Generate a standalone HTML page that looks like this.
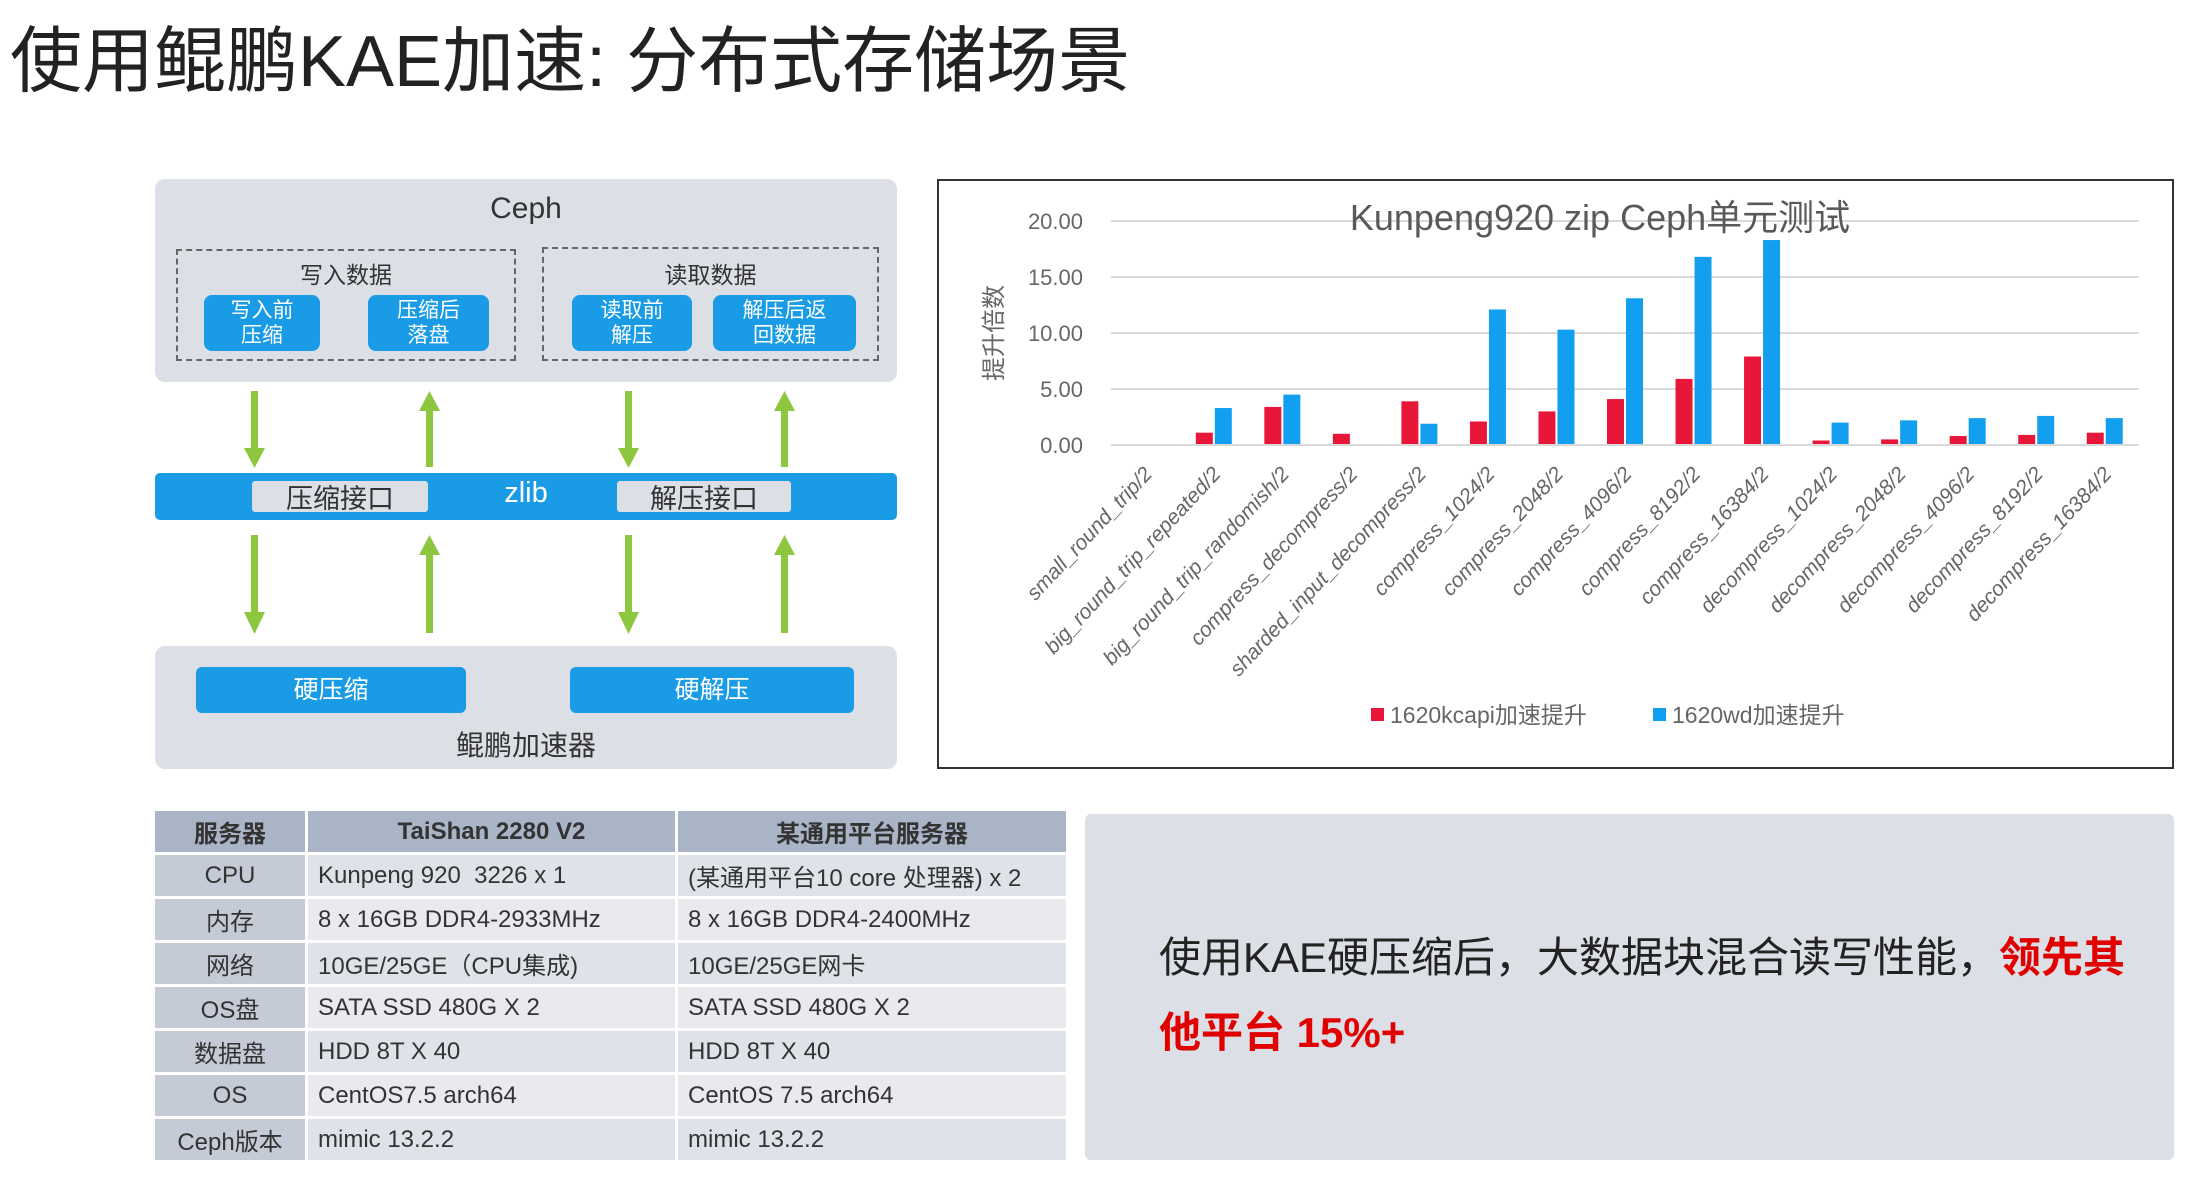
<!DOCTYPE html>
<html><head><meta charset="utf-8">
<style>
*{margin:0;padding:0;box-sizing:border-box}
body{width:2192px;height:1186px;background:#fff;position:relative;overflow:hidden;font-family:"Liberation Sans","Noto Sans CJK SC",sans-serif;color:#333}
.a{position:absolute}
.c{display:flex;align-items:center;justify-content:center;text-align:center}
.btn{position:absolute;background:#1a9be6;color:#fff;border-radius:8px;font-size:21px;line-height:25px;display:flex;align-items:center;justify-content:center;text-align:center}
.dash{position:absolute;border:2px dashed #666}
.iface{position:absolute;background:#dcdfe6;color:#333;font-size:27px;border-radius:3px;display:flex;align-items:center;justify-content:center}
table{border-collapse:separate;border-spacing:3px;font-size:24px;color:#333}
td{height:41px;padding:0 10px}
</style></head>
<body>
<div class="a" style="left:10px;top:20px;font-size:72px;line-height:84px;color:#222">使用鲲鹏KAE加速: 分布式存储场景</div>

<div>
<div class="a" style="left:155px;top:179px;width:742px;height:203px;background:#dcdfe6;border-radius:10px"></div>
<div class="a" style="left:155px;top:192px;width:742px;text-align:center;font-size:30px">Ceph</div>
<div class="dash" style="left:176px;top:249px;width:340px;height:112px"></div>
<div class="a" style="left:176px;top:256px;width:340px;text-align:center;font-size:23px">写入数据</div>
<div class="dash" style="left:542px;top:247px;width:337px;height:114px"></div>
<div class="a" style="left:542px;top:256px;width:337px;text-align:center;font-size:23px">读取数据</div>
<div class="btn" style="left:204px;top:295px;width:116px;height:56px">写入前<br>压缩</div>
<div class="btn" style="left:368px;top:295px;width:121px;height:56px">压缩后<br>落盘</div>
<div class="btn" style="left:572px;top:295px;width:120px;height:56px">读取前<br>解压</div>
<div class="btn" style="left:713px;top:295px;width:143px;height:56px">解压后返<br>回数据</div>

<svg class="a" style="left:0;top:0" width="940" height="780">
<g fill="#8dc63f">
<rect x="251" y="391" width="7" height="60"/><polygon points="244,448 265,448 254.5,468"/>
<rect x="426" y="409" width="7" height="58"/><polygon points="419,411 440,411 429.5,391"/>
<rect x="625" y="391" width="7" height="60"/><polygon points="618,448 639,448 628.5,468"/>
<rect x="781" y="409" width="7" height="58"/><polygon points="774,411 795,411 784.5,391"/>
<rect x="251" y="535" width="7" height="80"/><polygon points="244,612 265,612 254.5,634"/>
<rect x="426" y="553" width="7" height="80"/><polygon points="419,555 440,555 429.5,535"/>
<rect x="625" y="535" width="7" height="80"/><polygon points="618,612 639,612 628.5,634"/>
<rect x="781" y="553" width="7" height="80"/><polygon points="774,555 795,555 784.5,535"/>
</g></svg>

<div class="a" style="left:155px;top:473px;width:742px;height:47px;background:#1a9be6;border-radius:5px"></div>
<div class="iface" style="left:252px;top:481px;width:176px;height:31px">压缩接口</div>
<div class="a" style="left:476px;top:477px;width:100px;text-align:center;color:#fff;font-size:29px">zlib</div>
<div class="iface" style="left:617px;top:481px;width:174px;height:31px">解压接口</div>

<div class="a" style="left:155px;top:646px;width:742px;height:123px;background:#dcdfe6;border-radius:10px"></div>
<div class="btn" style="left:196px;top:667px;width:270px;height:46px;font-size:25px;border-radius:6px">硬压缩</div>
<div class="btn" style="left:570px;top:667px;width:284px;height:46px;font-size:25px;border-radius:6px">硬解压</div>
<div class="a" style="left:155px;top:724px;width:742px;text-align:center;font-size:28px">鲲鹏加速器</div>
</div>

<div class="a" style="left:937px;top:179px;width:1237px;height:590px;border:2px solid #333"></div>
<svg class="a" id="chart" style="left:0;top:0" width="2192" height="800"></svg>

<div class="a" style="left:152px;top:808px">
<table>
<tr style="background:#a9b5c6;font-weight:bold"><td style="width:150px;text-align:center">服务器</td><td style="width:367px;text-align:center">TaiShan 2280 V2</td><td style="width:388px;text-align:center">某通用平台服务器</td></tr>
<tr><td style="background:#c4cad6;text-align:center">CPU</td><td style="background:#dfe2e8">Kunpeng 920&nbsp; 3226 x 1</td><td style="background:#dfe2e8">(某通用平台10 core 处理器) x 2</td></tr>
<tr><td style="background:#c4cad6;text-align:center">内存</td><td style="background:#e8eaee">8 x 16GB DDR4-2933MHz</td><td style="background:#e8eaee">8 x 16GB DDR4-2400MHz</td></tr>
<tr><td style="background:#c4cad6;text-align:center">网络</td><td style="background:#dfe2e8">10GE/25GE（CPU集成)</td><td style="background:#dfe2e8">10GE/25GE网卡</td></tr>
<tr><td style="background:#c4cad6;text-align:center">OS盘</td><td style="background:#e8eaee">SATA SSD 480G X 2</td><td style="background:#e8eaee">SATA SSD 480G X 2</td></tr>
<tr><td style="background:#c4cad6;text-align:center">数据盘</td><td style="background:#dfe2e8">HDD 8T X 40</td><td style="background:#dfe2e8">HDD 8T X 40</td></tr>
<tr><td style="background:#c4cad6;text-align:center">OS</td><td style="background:#e8eaee">CentOS7.5 arch64</td><td style="background:#e8eaee">CentOS 7.5 arch64</td></tr>
<tr><td style="background:#c4cad6;text-align:center">Ceph版本</td><td style="background:#dfe2e8">mimic 13.2.2</td><td style="background:#dfe2e8">mimic 13.2.2</td></tr>
</table></div>

<div class="a" style="left:1085px;top:814px;width:1089px;height:346px;background:#dcdfe6;border-radius:6px"></div>
<div class="a" style="left:1159px;top:920px;width:1000px;font-size:42px;line-height:75px;color:#222">使用KAE硬压缩后，大数据块混合读写性能，<span style="color:#e00000;font-weight:bold">领先其<br>他平台 15%+</span></div>

<script>
const categories=["small_round_trip/2","big_round_trip_repeated/2","big_round_trip_randomish/2","compress_decompress/2","sharded_input_decompress/2","compress_1024/2","compress_2048/2","compress_4096/2","compress_8192/2","compress_16384/2","decompress_1024/2","decompress_2048/2","decompress_4096/2","decompress_8192/2","decompress_16384/2"];
const kcapi=[0,1.1,3.4,1.0,3.9,2.1,3.0,4.1,5.9,7.9,0.4,0.5,0.8,0.9,1.1];
const wd=[0,3.3,4.5,0,1.9,12.1,10.3,13.1,16.8,18.3,2.0,2.2,2.4,2.6,2.4];
const yTicks=[0,5,10,15,20];
const yTickLabels=["0.00","5.00","10.00","15.00","20.00"];
const seriesNames=["1620kcapi加速提升","1620wd加速提升"];
const NS="http://www.w3.org/2000/svg";
const svg=document.getElementById('chart');
const X0=1111,X1=2139,Y0=445,Y1=221,YMAX=20;
const step=(X1-X0)/categories.length;
const xc=i=>X0+step*(i+0.5);
const y=v=>Y0-(v/YMAX)*(Y0-Y1);
function mk(tag,attrs,txt){const e=document.createElementNS(NS,tag);for(const k in attrs)e.setAttribute(k,attrs[k]);if(txt!==undefined)e.textContent=txt;svg.appendChild(e);return e;}
yTicks.forEach((t,i)=>{
 const g=mk('line',{x1:X0,x2:X1,y1:y(t),y2:y(t),stroke:'#d9d9d9','stroke-width':2});
 
 
 const l=mk('text',{x:X0-28,y:y(t)+8,'text-anchor':'end','font-size':22,fill:'#666'},yTickLabels[i]);
 
 
});
const yt=mk('text',{x:0,y:0,'text-anchor':'middle','font-size':24,fill:'#666',transform:'translate(1002,333) rotate(-90)','font-family':'"Liberation Sans","Noto Sans CJK SC",sans-serif'},'提升倍数');


const tt=mk('text',{x:1600,y:230,'text-anchor':'middle','font-size':36,fill:'#595959'},'Kunpeng920 zip Ceph单元测试');


const bw=17;
categories.forEach((c,i)=>{
 const r=mk('rect',{x:xc(i)-bw-1,y:y(kcapi[i]),width:bw,height:Y0-y(kcapi[i]),fill:'#e8173a'});
 
 
 const b=mk('rect',{x:xc(i)+1,y:y(wd[i]),width:bw,height:Y0-y(wd[i]),fill:'#139ff0'});
 
 
 const l=mk('text',{x:0,y:0,'text-anchor':'end','font-size':21,fill:'#666','font-style':'italic',transform:`translate(${xc(i)+8},${Y0+30}) rotate(-47)`},c);
 
 
});
const ax=mk('line',{x1:X0,x2:X1,y1:Y0,y2:Y0,stroke:'#d9d9d9','stroke-width':2});


[[1371,'#e8173a'],[1653,'#139ff0']].forEach((p,i)=>{
 const s=mk('rect',{x:p[0],y:708,width:13,height:13,fill:p[1]});
 
 
 const t=mk('text',{x:p[0]+19,y:723,'font-size':23,fill:'#666'},seriesNames[i]);
 
 
});
</script>
</body></html>
